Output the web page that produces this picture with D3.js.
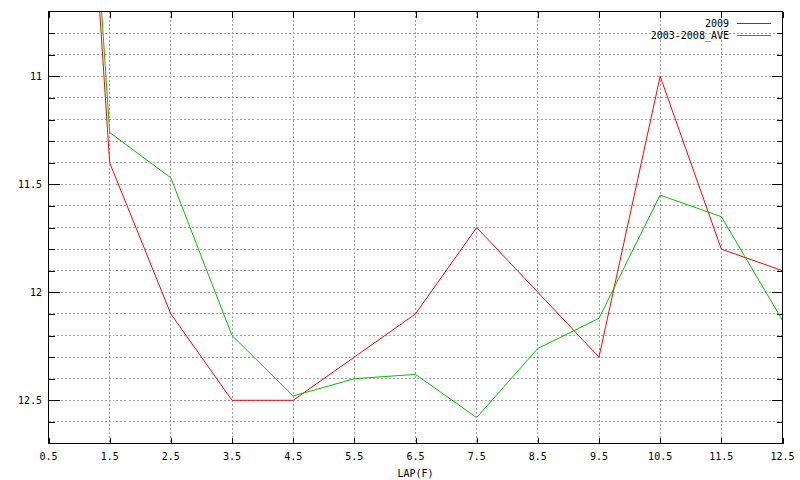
<!DOCTYPE html>
<html>
<head>
<meta charset="utf-8">
<script src="https://cdn.jsdelivr.net/npm/d3@7"></script>
<style>
  html, body { margin: 0; padding: 0; background: #fff; }
  svg { display: block; }
  text { font-family: "DejaVu Sans Mono", monospace; font-size: 10px; fill: #000; }
</style>
</head>
<body>
<svg id="chart" width="800" height="480"></svg>
<script>
// ---- data ----
const laps = [0.5, 1.5, 2.5, 3.5, 4.5, 5.5, 6.5, 7.5, 8.5, 9.5, 10.5, 11.5, 12.5];
const series2009 = [7.1, 11.4, 12.1, 12.5, 12.5, 12.3, 12.1, 11.7, 12.0, 12.3, 11.0, 11.8, 11.9];
const seriesAve = [7.0, 11.26, 11.47, 12.2, 12.48, 12.4, 12.38, 12.58, 12.26, 12.12, 11.55, 11.65, 12.13];
const seriesNames = ["2009", "2003-2008_AVE"];
const seriesColors = ["#ff0000", "#00c000"];
const xTicks = [0.5, 1.5, 2.5, 3.5, 4.5, 5.5, 6.5, 7.5, 8.5, 9.5, 10.5, 11.5, 12.5];
const yMajorTicks = [11, 11.5, 12, 12.5];
const yMinorTicks = [10.8, 10.9, 11.0, 11.1, 11.2, 11.3, 11.4, 11.5, 11.6, 11.7, 11.8, 11.9, 12.0, 12.1, 12.2, 12.3, 12.4, 12.5, 12.6];
const xLabel = "LAP(F)";

// ---- layout ----
const L = 48.5, R = 782.5, T = 11.5, B = 443.5;
const svg = d3.select("#chart");

const x = d3.scaleLinear().domain([0.5, 12.5]).range([L, R]);
const y = d3.scaleLinear().domain([10.7, 12.7]).range([T, B]);
const snap = v => Math.round(v - 0.5) + 0.5;

// grid
const grid = svg.append("g").attr("stroke", "#a0a0a0").attr("stroke-width", 1)
  .attr("stroke-dasharray", "2,2").attr("shape-rendering", "crispEdges");
grid.selectAll("line.h").data(yMinorTicks).join("line")
  .attr("x1", L).attr("x2", R)
  .attr("y1", d => snap(y(d))).attr("y2", d => snap(y(d)));
grid.selectAll("line.v").data(xTicks.slice(1, -1)).join("line")
  .attr("y1", T).attr("y2", B)
  .attr("x1", d => snap(x(d))).attr("x2", d => snap(x(d)));

// axes ticks (left, right, bottom, top) using d3 axes
const fmt = d3.format("");
const yMinorOnly = yMinorTicks.filter(v => !yMajorTicks.some(m => Math.abs(m - v) < 1e-9));

function styleAxis(g) {
  g.select(".domain").remove();
  g.selectAll("line").attr("stroke", "#000").attr("shape-rendering", "crispEdges");
}
// left major
svg.append("g").attr("transform", `translate(${L},0)`)
  .call(d3.axisRight(y).tickValues(yMajorTicks).tickSize(11).tickFormat(""))
  .call(styleAxis).selectAll("text").remove();
svg.append("g").attr("transform", `translate(${L},0)`)
  .call(d3.axisRight(y).tickValues(yMinorOnly).tickSize(6).tickFormat(""))
  .call(styleAxis);
// right major / minor (mirror)
svg.append("g").attr("transform", `translate(${R},0)`)
  .call(d3.axisLeft(y).tickValues(yMajorTicks).tickSize(11).tickFormat(""))
  .call(styleAxis);
svg.append("g").attr("transform", `translate(${R},0)`)
  .call(d3.axisLeft(y).tickValues(yMinorOnly).tickSize(6).tickFormat(""))
  .call(styleAxis);
// bottom & top ticks
svg.append("g").attr("transform", `translate(0,${B})`)
  .call(d3.axisTop(x).tickValues(xTicks).tickSize(6).tickFormat(""))
  .call(styleAxis);
svg.append("g").attr("transform", `translate(0,${T})`)
  .call(d3.axisBottom(x).tickValues(xTicks).tickSize(6).tickFormat(""))
  .call(styleAxis);

// tick labels
svg.append("g").selectAll("text").data(yMajorTicks).join("text")
  .attr("x", 42).attr("y", d => y(d)).attr("dy", "0.35em")
  .attr("text-anchor", "end").text(d => fmt(d));
svg.append("g").selectAll("text").data(xTicks).join("text")
  .attr("x", d => x(d)).attr("y", 456).attr("dy", "0.35em")
  .attr("text-anchor", "middle").text(d => fmt(d));
svg.append("text").attr("x", (L + R) / 2).attr("y", 473).attr("dy", "0.35em")
  .attr("text-anchor", "middle").text(xLabel);

// clip
svg.append("clipPath").attr("id", "clip").append("rect")
  .attr("x", L).attr("y", T).attr("width", R - L).attr("height", B - T);

const line = d3.line().x((d, i) => x(laps[i])).y(d => y(d));
const plots = svg.append("g").attr("clip-path", "url(#clip)");
[series2009, seriesAve].forEach((s, k) => {
  plots.append("path").datum(s).attr("d", line)
    .attr("fill", "none").attr("stroke", seriesColors[k]).attr("stroke-width", 1);
});

// border
svg.append("rect").attr("x", L).attr("y", T).attr("width", R - L).attr("height", B - T)
  .attr("fill", "none").attr("stroke", "#000").attr("shape-rendering", "crispEdges");

// legend
const leg = svg.append("g");
seriesNames.forEach((n, k) => {
  const ly = 23.5 + k * 12;
  leg.append("text").attr("x", 729).attr("y", ly).attr("dy", "0.35em")
    .attr("text-anchor", "end").text(n);
  leg.append("line").attr("x1", 737).attr("x2", 771).attr("y1", ly).attr("y2", ly)
    .attr("stroke", seriesColors[k]).attr("shape-rendering", "crispEdges");
});
</script>
</body>
</html>
